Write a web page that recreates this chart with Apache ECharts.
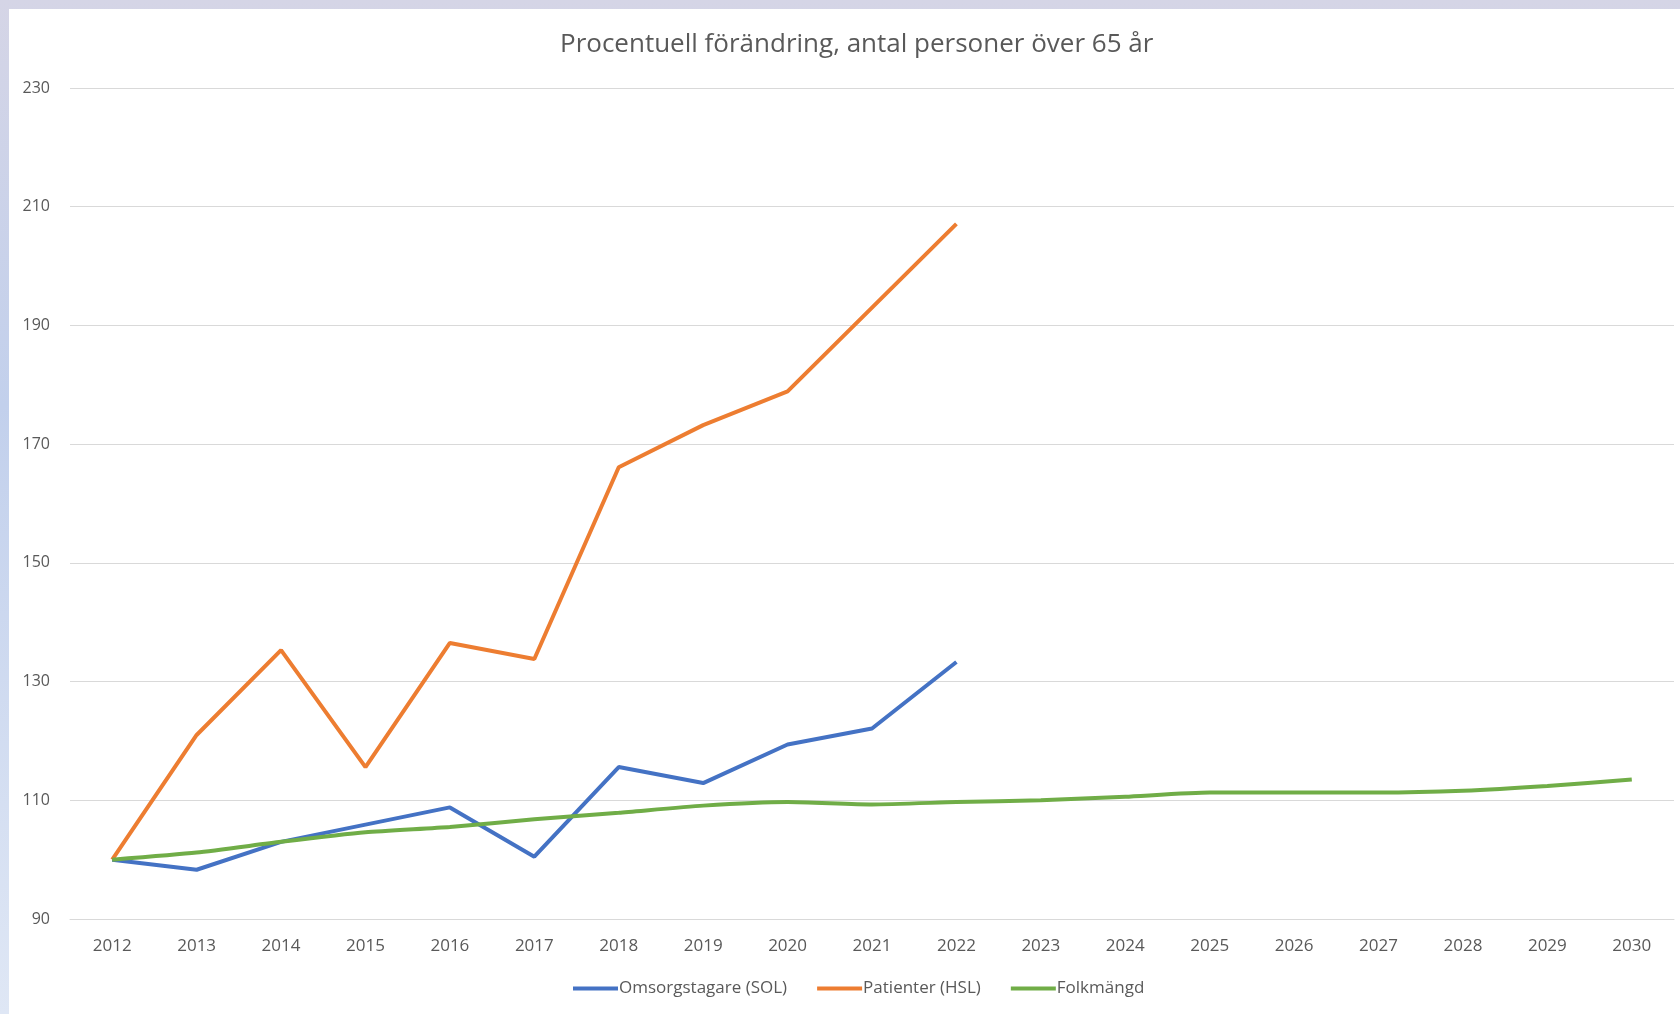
<!DOCTYPE html>
<html>
<head>
<meta charset="utf-8">
<script src="https://cdn.jsdelivr.net/npm/echarts@6/dist/echarts.min.js"></script>
<style>
  html, body {
    margin: 0;
    width: 1680px;
    height: 1014px;
    overflow: hidden;
    background: linear-gradient(to bottom, #d5d5e6 0%, #c2d0ec 40%, #dfe7f5 100%);
  }
  #chart_container {
    position: absolute;
    left: 9px;
    top: 9px;
    width: 1671px;
    height: 1005px;
    background: #ffffff;
  }
</style>
</head>
<body>
<div id="chart_container"></div>
<script>
const years = ['2012', '2013', '2014', '2015', '2016', '2017', '2018', '2019', '2020', '2021',
  '2022', '2023', '2024', '2025', '2026', '2027', '2028', '2029', '2030'];

const omsorgstagare = [100, 98.3, 103.0, 105.9, 108.8, 100.5, 115.6, 112.9, 119.4, 122.1, 133.3];
const patienter = [100, 121.0, 135.3, 115.6, 136.5, 133.8, 166.1, 173.2, 178.9, 193.0, 207.1];
const folkmangd = [100, 101.2, 103.0, 104.6, 105.5, 106.8, 107.9, 109.1, 109.7, 109.3,
  109.7, 110.0, 110.6, 111.3, 111.3, 111.3, 111.6, 112.4, 113.5];

const chart = echarts.init(document.getElementById('chart_container'));

const font = '"Open Sans", "Noto Sans", sans-serif';

const option = {
  animation: false,
  textStyle: { fontFamily: font },
  title: {
    text: 'Procentuell förändring, antal personer över 65 år',
    left: 546,
    top: 18,
    textStyle: { fontFamily: font, fontSize: 26, fontWeight: 'normal', color: '#595959' }
  },
  legend: {
    bottom: 12,
    left: 559,
    icon: 'rect',
    itemWidth: 45,
    itemHeight: 4,
    itemGap: 30,
    textStyle: { fontFamily: font, fontSize: 17, color: '#595959', padding: [0, 0, 0, -4] },
    data: ['Omsorgstagare (SOL)', 'Patienter (HSL)', 'Folkmängd']
  },
  grid: { left: 61, right: 6, top: 79, bottom: 95, containLabel: false },
  xAxis: {
    type: 'category',
    data: years,
    boundaryGap: true,
    axisLine: { lineStyle: { color: '#d9d9d9', width: 1 } },
    axisTick: { show: false },
    axisLabel: { fontFamily: font, fontSize: 17, color: '#595959', margin: 19 }
  },
  yAxis: {
    type: 'value',
    min: 90,
    max: 230,
    interval: 20,
    axisLine: { show: false },
    axisTick: { show: false },
    axisLabel: { fontFamily: font, fontSize: 16, color: '#595959', margin: 20 },
    splitLine: { lineStyle: { color: '#d9d9d9', width: 1 } }
  },
  series: [
    {
      name: 'Omsorgstagare (SOL)',
      type: 'line',
      data: omsorgstagare,
      showSymbol: false,
      color: '#4472c4',
      lineStyle: { width: 4, color: '#4472c4' }
    },
    {
      name: 'Patienter (HSL)',
      type: 'line',
      data: patienter,
      showSymbol: false,
      color: '#ed7d31',
      lineStyle: { width: 4, color: '#ed7d31' }
    },
    {
      name: 'Folkmängd',
      type: 'line',
      data: folkmangd,
      showSymbol: false,
      smooth: 0.2,
      color: '#70ad47',
      lineStyle: { width: 4, color: '#70ad47' }
    }
  ]
};

chart.setOption(option);
</script>
</body>
</html>
